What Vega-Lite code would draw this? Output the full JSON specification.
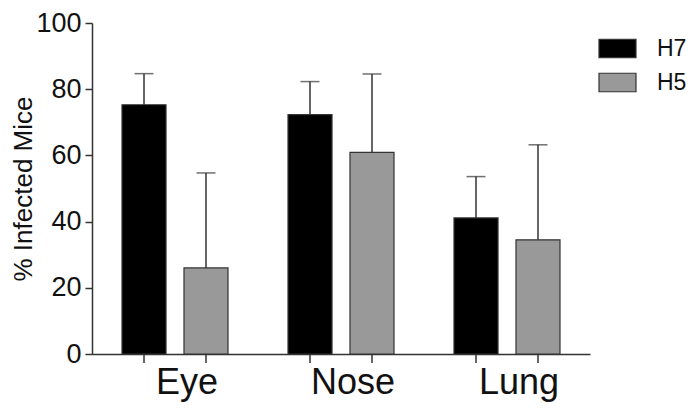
{
  "$schema": "https://vega.github.io/schema/vega-lite/v6.json",
  "autosize": {"type": "none"},
  "padding": {"left": 92, "top": 23, "right": 110, "bottom": 66},
  "width": 498,
  "height": 331,
  "background": "white",
  "config": {
    "font": "Liberation Sans",
    "view": {"stroke": null},
    "axis": {"grid": false, "domainColor": "#333333", "tickColor": "#333333", "domainWidth": 1.5, "tickWidth": 1.5, "labelColor": "#111111", "titleColor": "#111111", "labelFont": "Liberation Sans", "titleFont": "Liberation Sans"}
  },
  "data": {
    "values": [
      {"organ": "Eye", "strain": "H7", "mean": 75.3, "upper": 84.7},
      {"organ": "Eye", "strain": "H5", "mean": 26.0, "upper": 54.7},
      {"organ": "Nose", "strain": "H7", "mean": 72.3, "upper": 82.3},
      {"organ": "Nose", "strain": "H5", "mean": 60.9, "upper": 84.6},
      {"organ": "Lung", "strain": "H7", "mean": 41.1, "upper": 53.6},
      {"organ": "Lung", "strain": "H5", "mean": 34.5, "upper": 63.2}
    ]
  },
  "encoding": {
    "x": {
      "field": "organ", "type": "nominal", "sort": ["Eye", "Nose", "Lung"],
      "scale": {"paddingInner": 0, "paddingOuter": 0},
      "axis": {"title": null, "labelAngle": 0, "ticks": false, "labelFontSize": 36, "labelOffset": 12, "labelPadding": 11, "labelColor": "#111111"}
    },
    "xOffset": {
      "field": "strain", "type": "nominal", "sort": ["H7", "H5"],
      "scale": {"paddingInner": 0.29, "paddingOuter": 0.484}
    }
  },
  "layer": [
    {
      "mark": {"type": "rule", "stroke": "#333333", "strokeWidth": 1.5},
      "encoding": {
        "y": {"field": "mean", "type": "quantitative"},
        "y2": {"field": "upper"}
      }
    },
    {
      "mark": {"type": "tick", "orient": "horizontal", "size": 19, "thickness": 1.5, "color": "#333333"},
      "encoding": {
        "y": {"field": "upper", "type": "quantitative"}
      }
    },
    {
      "mark": {"type": "rule", "stroke": "#333333", "strokeWidth": 1.5, "y2Offset": 9},
      "encoding": {
        "y": {"datum": 0, "type": "quantitative"},
        "y2": {"datum": 0}
      }
    },
    {
      "mark": {"type": "bar", "stroke": "#333333", "strokeWidth": 1.2},
      "encoding": {
        "y": {
          "field": "mean", "type": "quantitative",
          "scale": {"domain": [0, 100], "nice": false},
          "axis": {"title": "% Infected Mice", "titleFontSize": 26, "titleFontWeight": "normal", "titlePadding": -1, "labelFontSize": 27, "values": [0, 20, 40, 60, 80, 100], "labelOverlap": false, "tickSize": 7, "labelPadding": 4}
        },
        "color": {
          "field": "strain", "type": "nominal", "sort": ["H7", "H5"],
          "scale": {"domain": ["H7", "H5"], "range": ["#000000", "#999999"]},
          "legend": {
            "title": null, "orient": "none", "legendX": 506, "legendY": 6,
            "padding": 0, "symbolType": "M-1,-0.5H1V0.5H-1Z", "symbolSize": 1369,
            "symbolStrokeColor": "#333333", "symbolStrokeWidth": 1.2, "symbolOpacity": 1,
            "labelFontSize": 23, "labelOffset": 20, "labelColor": "#111111", "rowPadding": 2
          }
        }
      }
    }
  ]
}
